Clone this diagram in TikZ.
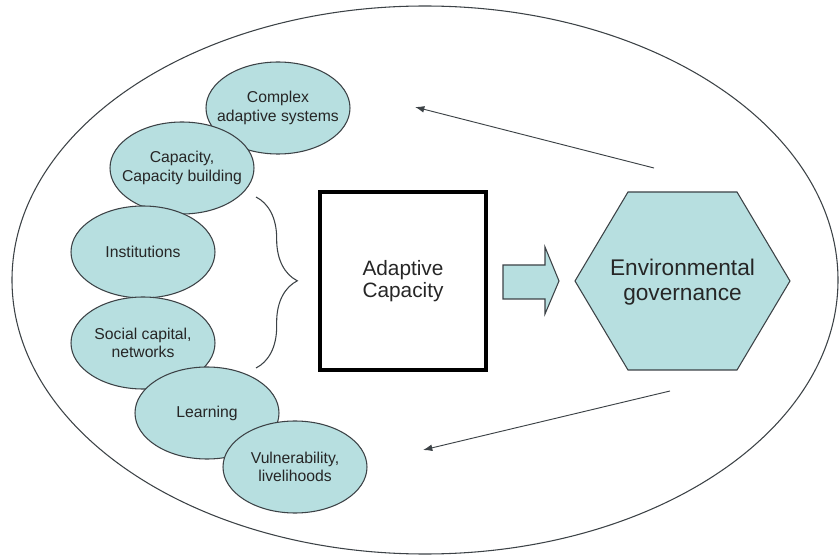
\documentclass[tikz,border=0pt]{standalone}
\usepackage{fontspec}
\setmainfont{Liberation Sans}
\usetikzlibrary{shapes.geometric,decorations.pathreplacing,arrows.meta}
\definecolor{teal}{RGB}{183,223,224}
\definecolor{edge}{RGB}{60,66,70}
\begin{document}
\begin{tikzpicture}[x=0.75pt,y=-0.75pt,
  concept/.style={ellipse,draw=edge,line width=0.8pt,fill=teal,
    minimum width=108pt,minimum height=69pt,inner sep=-20pt,
    align=center,font=\fontsize{11.8}{13.8}\selectfont,text=black!85},
  shapeline/.style={draw=edge,line width=0.8pt,fill=teal},
  thinarrow/.style={draw=edge,line width=0.7pt,-{Latex[length=7pt,width=5pt]}}]
\useasboundingbox (0,0) rectangle (840,556);
% outer frame
\draw[edge,line width=0.8pt] (425,280) ellipse [x radius=413, y radius=274];
% contributing concepts, each drawn over the one above it
\node[concept] (cas) at (278,108) {Complex\\adaptive systems};
\node[concept] (cap) at (182,168) {Capacity,\\Capacity building};
\node[concept] (inst) at (143,252) {Institutions};
\node[concept] (soc) at (143,343) {Social capital,\\networks};
\node[concept] (learn) at (207,413) {Learning};
\node[concept] (vul) at (295,467) {Vulnerability,\\livelihoods};
% brace gathering the concepts
\coordinate (bt) at (256,197);
\coordinate (bb) at (256,368);
\draw[edge,line width=0.8pt,decorate,decoration={brace,amplitude=31pt,aspect=0.49}] (bt) -- (bb);
% central box
\node[draw=black,line width=3.2pt,minimum width=125pt,minimum height=133pt,
  align=center,font=\fontsize{15.6}{16.8}\selectfont,text=black!85] (ac) at (403,281) {Adaptive\\Capacity};
% block arrow
\draw[shapeline]
  (503,265) -- (545,265) -- (545,247) -- (559,281) -- (545,314) -- (545,299) -- (503,299) -- cycle;
% governance hexagon
\draw[shapeline] (628,192) -- (737,192) -- (790,281) -- (737,370) -- (628,370) -- (575,281) -- cycle;
\node[align=center,font=\fontsize{17}{18.5}\selectfont,text=black!85] (eg) at (682.5,282) {Environmental\\governance};
% feedback arrows
\coordinate (u1) at (654,168);
\coordinate (u2) at (415,107);
\coordinate (l1) at (670,391);
\coordinate (l2) at (423,450);
\draw[thinarrow] (u1) -- (u2);
\draw[thinarrow] (l1) -- (l2);
\end{tikzpicture}
\end{document}
